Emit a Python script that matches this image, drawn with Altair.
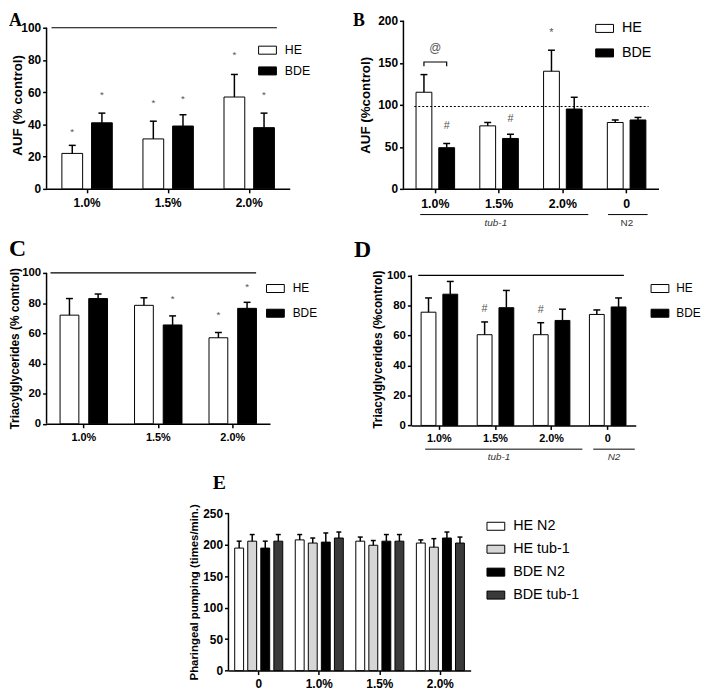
import altair as alt
import pandas as pd

SANS = "Liberation Sans"
SERIF = "Liberation Serif"
RECT = "M-1,-0.45H1V0.45H-1Z"

# ---------------- Panel A ----------------
A_GROUPS = ["1.0%", "1.5%", "2.0%"]
A_SERIES = ["HE", "BDE"]
A_HE = [22, 31, 57]
A_HE_ERR = [27, 42, 71]
A_BDE = [41, 39, 38]
A_BDE_ERR = [47, 46, 47]
A_HE_NOTE = ["*", "*", "*"]
A_HE_NOTE_Y = [35, 53, 83]
A_BDE_NOTE = ["*", "*", "*"]
A_BDE_NOTE_Y = [58, 56, 58]
A_TICKS = [0, 20, 40, 60, 80, 100]

# ---------------- Panel B ----------------
B_GROUPS = ["1.0%", "1.5%", "2.0%", "0"]
B_SERIES = ["HE", "BDE"]
B_HE = [115, 75, 140, 79]
B_HE_ERR = [136, 79, 165, 82]
B_BDE = [49, 60, 95, 82]
B_BDE_ERR = [54, 65, 109, 85]
B_HE_NOTE = ["", "", "*", ""]
B_HE_NOTE_Y = [None, None, 185, None]
B_BDE_NOTE = ["#", "#", "", ""]
B_BDE_NOTE_Y = [75, 83, None, None]
B_REF = 98
B_BRACKET_Y = [146, 151, 151, 146]
B_BRACKET_S = ["HE", "HE", "BDE", "BDE"]
B_AT_Y = 167
B_TICKS = [0, 50, 100, 150, 200]

# ---------------- Panel C ----------------
C_GROUPS = ["1.0%", "1.5%", "2.0%"]
C_SERIES = ["HE", "BDE"]
C_HE = [72, 78.5, 57]
C_HE_ERR = [83, 83.5, 60.5]
C_BDE = [83, 65.5, 76.5]
C_BDE_ERR = [86, 71.5, 80.5]
C_HE_NOTE = ["", "", "*"]
C_HE_NOTE_Y = [None, None, 72]
C_BDE_NOTE = ["", "*", "*"]
C_BDE_NOTE_Y = [None, 83, 90.5]
C_TICKS = [0, 20, 40, 60, 80, 100]

# ---------------- Panel D ----------------
D_GROUPS = ["1.0%", "1.5%", "2.0%", "0"]
D_SERIES = ["HE", "BDE"]
D_HE = [75.5, 60.5, 60.5, 74]
D_HE_ERR = [85, 69, 68.5, 77]
D_BDE = [87.5, 78.5, 70, 79]
D_BDE_ERR = [96, 90, 77.5, 85]
D_HE_NOTE = ["", "#", "#", ""]
D_HE_NOTE_Y = [None, 77.5, 77, None]
D_BDE_NOTE = ["", "", "", ""]
D_BDE_NOTE_Y = [None, None, None, None]
D_TICKS = [0, 20, 40, 60, 80, 100]

# ---------------- Panel E ----------------
E_GROUPS = ["0", "1.0%", "1.5%", "2.0%"]
E_SERIES = ["HE N2", "HE tub-1", "BDE N2", "BDE tub-1"]
E_HE_N2 = [194.5, 207.5, 205.5, 202.5]
E_HE_N2_ERR = [205.5, 216, 212, 207.5]
E_HE_TUB = [205.5, 202.5, 199, 196]
E_HE_TUB_ERR = [216, 210.5, 206.5, 209.5]
E_BDE_N2 = [194.5, 204, 205.5, 210.5]
E_BDE_N2_ERR = [205.5, 218.5, 216, 220]
E_BDE_TUB = [205.5, 210.5, 205.5, 202.5]
E_BDE_TUB_ERR = [216, 220, 216, 212]
E_TICKS = [0, 50, 100, 150, 200, 250]


def table(groups, series, vals, errs, notes=None, note_ys=None):
    rows = []
    for i, s in enumerate(series):
        for j, g in enumerate(groups):
            n = notes[i][j] if notes else ""
            ny = note_ys[i][j] if note_ys else None
            rows.append(dict(g=g, s=s, v=vals[i][j], e=errs[i][j], note=n, ny=ny))
    return pd.DataFrame(rows)


def panel(df, groups, series, fills, width, height, ydom, yticks, ytitle, *,
          tick_fs, xlabel_pad, title_fs, title_x, ylabel_fs, bar_w, inner_step, cap,
          legend, letter, letter_fs, letter_xy, box, extras=(), note_fs=10, ref100=None):
    n = len(series)
    G = width / len(groups)
    pi = (inner_step - bar_w) / inner_step
    po = (G / inner_step - n + pi) / 2
    xaxis = alt.Axis(title=None, labelAngle=0, labelFont=SANS, labelFontWeight="bold",
                     labelFontSize=tick_fs, labelColor="black", labelPadding=xlabel_pad,
                     tickSize=4, tickColor="black", tickWidth=1.5,
                     domainColor="black", domainWidth=1.5)
    X = alt.X("g:N", sort=groups, scale=alt.Scale(domain=groups, paddingInner=0, paddingOuter=0),
              axis=xaxis)
    XO = alt.XOffset("s:N", sort=series,
                     scale=alt.Scale(domain=series, paddingInner=pi, paddingOuter=po))
    yaxis = alt.Axis(values=yticks, grid=False, domain=False, labelOverlap=False,
                     labelFont=SANS, labelFontWeight="bold",
                     labelFontSize=ylabel_fs, labelColor="black", labelPadding=2,
                     tickSize=4, tickColor="black", tickWidth=1.5,
                     titleFont=SANS, titleFontWeight="bold", titleFontSize=title_fs,
                     titleColor="black", titleX=title_x, titleAngle=270,
                     titleBaseline="middle")

    def Y(f):
        return alt.Y(f, title=ytitle, scale=alt.Scale(domain=ydom, nice=False), axis=yaxis)

    one = pd.DataFrame({"k": [0]})
    # invisible frame that fixes the panel's extent for the concat layout
    frame = alt.Chart(one).mark_rect(opacity=0).encode(
        x=alt.value(box[0]), x2=alt.value(box[2]), y=alt.value(box[1]), y2=alt.value(box[3]))
    layers = [frame]
    # y-axis line drawn from 0 to the top tick
    ydf = pd.DataFrame({"y0": [yticks[0]], "y1": [yticks[-1]]})
    layers.append(alt.Chart(ydf).mark_rule(color="black", strokeWidth=1.5).encode(
        x=alt.value(0), y=Y("y0:Q"), y2="y1:Q"))
    if ref100 is not None:
        rdf = pd.DataFrame({"r": [100]})
        layers.append(alt.Chart(rdf).mark_rule(color="black", strokeWidth=1.2).encode(
            y=Y("r:Q"), x=alt.value(ref100[0]), x2=alt.value(ref100[1])))
    base = alt.Chart(df)
    bars = base.mark_bar(stroke="black", strokeWidth=1).encode(
        x=X, xOffset=XO, y=Y("v:Q"),
        fill=alt.Fill("s:N", sort=series, scale=alt.Scale(domain=series, range=fills),
                      legend=legend))
    err = base.mark_rule(color="black", strokeWidth=1.5).encode(
        x=X, xOffset=XO, y=Y("v:Q"), y2="e:Q")
    caps = base.mark_tick(color="black", thickness=1.5, size=cap, opacity=1).encode(
        x=X, xOffset=XO, y=Y("e:Q"))
    layers += [bars, err, caps]
    ndf = df[df["note"] != ""]
    if len(ndf):
        layers.append(alt.Chart(ndf).mark_text(font=SANS, fontSize=note_fs, color="#555",
                                               baseline="middle").encode(
            x=X, xOffset=XO, y=Y("ny:Q"), text="note:N"))
    for ex in extras:
        layers.append(ex(X, XO, Y))
    layers.append(alt.Chart(pd.DataFrame({"t": [letter]})).mark_text(
        font=SERIF, fontWeight="bold", fontSize=letter_fs, align="left",
        baseline="top", color="black").encode(
        x=alt.value(letter_xy[0]), y=alt.value(letter_xy[1]), text="t:N"))
    return alt.layer(*layers).properties(width=width, height=height)


def leg(x, y, fs, rp, off=8):
    return alt.Legend(title=None, orient="none", legendX=x, legendY=y, symbolType=RECT,
                      symbolSize=324, symbolStrokeColor="black", symbolStrokeWidth=1,
                      symbolOpacity=1, labelFont=SANS, labelFontSize=fs, labelColor="black",
                      labelOffset=off, rowPadding=rp, padding=0)


def dotted_ref(yval, x1, x2):
    def f(X, XO, Y):
        return alt.Chart(pd.DataFrame({"r": [yval]})).mark_rule(
            color="black", strokeWidth=1.2, strokeDash=[2, 2]).encode(
            y=Y("r:Q"), x=alt.value(x1), x2=alt.value(x2))
    return f


def pxline(y, x1, x2):
    def f(X, XO, Y):
        return alt.Chart(pd.DataFrame({"k": [0]})).mark_rule(color="black", strokeWidth=1).encode(
            y=alt.value(y), x=alt.value(x1), x2=alt.value(x2))
    return f


def pxtext(t, x, y, italic=False, fs=10):
    def f(X, XO, Y):
        return alt.Chart(pd.DataFrame({"t": [t]})).mark_text(
            font=SANS, fontSize=fs, fontStyle="italic" if italic else "normal",
            color="#333", baseline="middle", align="center").encode(
            x=alt.value(x), y=alt.value(y), text="t:N")
    return f


def bracket(X, XO, Y):
    bdf = pd.DataFrame({"g": ["1.0%"] * 4, "s": B_BRACKET_S, "v": B_BRACKET_Y, "o": [0, 1, 2, 3]})
    return alt.Chart(bdf).mark_line(color="black", strokeWidth=1.2).encode(
        x=X, xOffset=XO, y=Y("v:Q"), order="o:Q")


def at_sign(X, XO, Y):
    adf = pd.DataFrame({"g": ["1.0%"], "v": [B_AT_Y], "t": ["@"]})
    return alt.Chart(adf).mark_text(font=SANS, fontSize=12, color="#555", baseline="middle").encode(
        x=X, y=Y("v:Q"), text="t:N")


dfA = table(A_GROUPS, A_SERIES, [A_HE, A_BDE], [A_HE_ERR, A_BDE_ERR],
            [A_HE_NOTE, A_BDE_NOTE], [A_HE_NOTE_Y, A_BDE_NOTE_Y])
dfB = table(B_GROUPS, B_SERIES, [B_HE, B_BDE], [B_HE_ERR, B_BDE_ERR],
            [B_HE_NOTE, B_BDE_NOTE], [B_HE_NOTE_Y, B_BDE_NOTE_Y])
dfC = table(C_GROUPS, C_SERIES, [C_HE, C_BDE], [C_HE_ERR, C_BDE_ERR],
            [C_HE_NOTE, C_BDE_NOTE], [C_HE_NOTE_Y, C_BDE_NOTE_Y])
dfD = table(D_GROUPS, D_SERIES, [D_HE, D_BDE], [D_HE_ERR, D_BDE_ERR],
            [D_HE_NOTE, D_BDE_NOTE], [D_HE_NOTE_Y, D_BDE_NOTE_Y])
dfE = table(E_GROUPS, E_SERIES, [E_HE_N2, E_HE_TUB, E_BDE_N2, E_BDE_TUB],
            [E_HE_N2_ERR, E_HE_TUB_ERR, E_BDE_N2_ERR, E_BDE_TUB_ERR])

A = panel(dfA, A_GROUPS, A_SERIES, ["white", "black"], 246, 170, [0, 104.29],
          A_TICKS, "AUF (% control)",
          tick_fs=12, xlabel_pad=5, title_fs=13.5, title_x=-29.5, ylabel_fs=12,
          bar_w=21, inner_step=30, cap=7, legend=leg(214, 20.2, 12.5, 5),
          letter="A", letter_fs=18, letter_xy=(-38, -8.8), ref100=(5, 233),
          box=(-38, -9, 272, 212))

B = panel(dfB, B_GROUPS, B_SERIES, ["white", "black"], 258, 170, [0, 200],
          B_TICKS, "AUF (%control)",
          tick_fs=12.5, xlabel_pad=5, title_fs=13.5, title_x=-38, ylabel_fs=12,
          bar_w=16, inner_step=23, cap=7, legend=leg(194, -1.8, 14.5, 8.8),
          letter="B", letter_fs=18, letter_xy=(-51, -8.8), note_fs=11,
          box=(-89, -9, 262, 212),
          extras=[dotted_ref(B_REF, 11, 248), bracket, at_sign,
                  pxline(196, 17, 187), pxline(196, 207, 247),
                  pxtext("tub-1", 93.5, 205, italic=True), pxtext("N2", 226, 205)])

C = panel(dfC, C_GROUPS, C_SERIES, ["white", "black"], 226, 152.6, [0, 100],
          C_TICKS, "Triacylglycerides (% control)",
          tick_fs=11, xlabel_pad=3.5, title_fs=12, title_x=-32, ylabel_fs=11.5,
          bar_w=19, inner_step=29, cap=7, legend=leg(222, 6.3, 12, 9),
          letter="C", letter_fs=24, letter_xy=(-38, -35.7), ref100=(4, 212),
          box=(-38, -42.7, 282, 198.3))

D = panel(dfD, D_GROUPS, D_SERIES, ["white", "black"], 227, 154.3, [0, 101.7],
          D_TICKS, "Triacylglycerides (%control)",
          tick_fs=11, xlabel_pad=3.5, title_fs=12, title_x=-34, ylabel_fs=11.5,
          bar_w=15, inner_step=22, cap=7, legend=leg(242, 6.3, 12, 9, off=7),
          letter="D", letter_fs=24, letter_xy=(-58, -34.7), note_fs=11, ref100=(7, 215),
          box=(-87, -42.7, 240, 198.3),
          extras=[pxline(178.3, 14, 173), pxline(178.3, 184, 226),
                  pxtext("tub-1", 88.7, 186.3, italic=True),
                  pxtext("N2", 205, 186.3, italic=True)])

E = panel(dfE, E_GROUPS, E_SERIES, ["white", "#d6d6d6", "black", "#3a3a3a"], 245, 159.3,
          [0, 250], E_TICKS, "Pharingeal pumping (times/min.)",
          tick_fs=12, xlabel_pad=4, title_fs=11.5, title_x=-34, ylabel_fs=12,
          bar_w=9, inner_step=13.2, cap=5, legend=leg(261, 3.8, 14.5, 7.2),
          letter="E", letter_fs=20, letter_xy=(-16, -40),
          box=(-44, -44, 250, 170))

spacer = alt.Chart(pd.DataFrame({"z": [0]})).mark_point(opacity=0).properties(width=140, height=10)

IND = dict(x="independent", y="independent", xOffset="independent", fill="independent")


def hc(*charts):
    return alt.hconcat(*charts, spacing=0).resolve_scale(**IND).resolve_legend(
        fill="independent").resolve_axis(x="independent", y="independent")


row1 = hc(A, B)
row2 = hc(C, D)
row3 = hc(spacer, E)

chart = alt.vconcat(row1, row2, row3, spacing=0).resolve_scale(**IND).resolve_legend(
    fill="independent").properties(
    padding={"left": 0, "top": 0, "right": 0, "bottom": 0}, background="white"
).configure_view(stroke=None)

chart.save("out.html", embed_options={"renderer": "svg", "actions": False})
